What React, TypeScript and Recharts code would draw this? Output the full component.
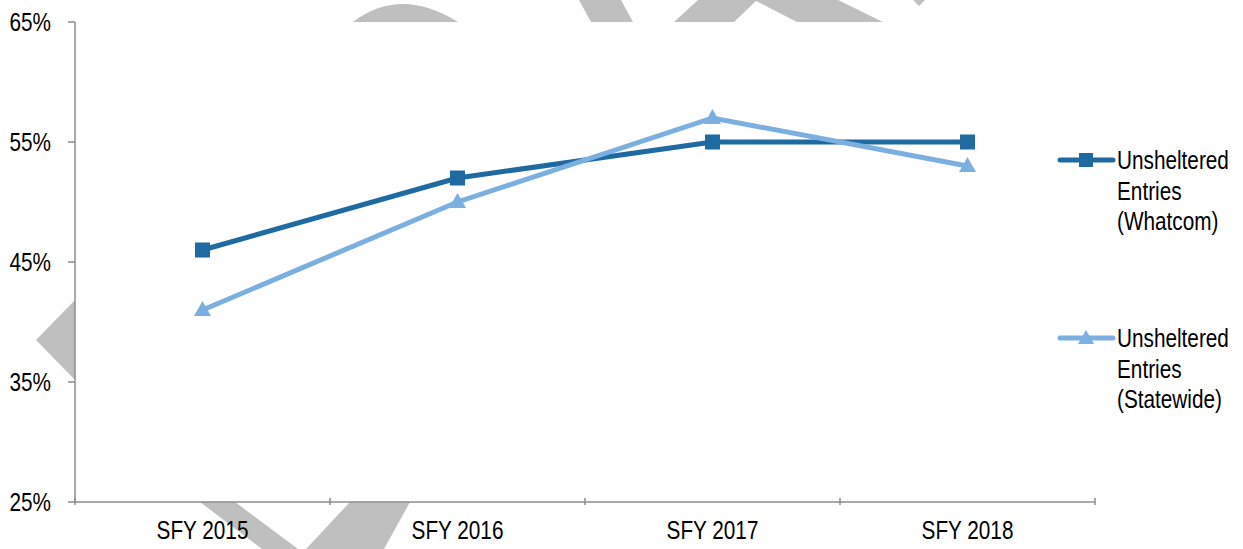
import React from "react";
import { LineChart, Line, XAxis, YAxis, Legend } from "recharts";

const years = ["SFY 2015", "SFY 2016", "SFY 2017", "SFY 2018"];
const whatcom = [46, 52, 55, 55];
const statewide = [41, 50, 57, 53];
const yTicks = [25, 35, 45, 55, 65];

const DARK = "#1f6aa0";
const LIGHT = "#7bafe0";
const AXIS = "#8c8c8c";
const FONT = "'Liberation Sans', Arial, sans-serif";
const FS = 25;
const SQUEEZE = 0.83; // the original uses a narrow face

const data = years.map((y, i) => ({
  year: y,
  whatcom: whatcom[i],
  statewide: statewide[i],
}));

// gray watermark bits peeking out around the plot area
function Watermark() {
  return (
    <svg width={1243} height={549} style={{ position: "absolute", left: 0, top: 0 }}>
      <g fill="#bfbfbf">
        <path d="M353,22 Q400,-14 458,22 Z" />
        <polygon points="579,0 621,0 633,22 591,22" />
        <polygon points="674,22 698,0 838,0 883,22 797,22 756,1 734,22" />
        <polygon points="913,0 925,0 919,6" />
        <polygon points="75,300 36,340 75,380" />
        <polygon points="200,502 235,502 298,549 262,549" />
        <polygon points="350,502 410,502 384,549 306,549" />
      </g>
    </svg>
  );
}

function XTick(props: any) {
  const { x, y, payload, index } = props;
  const half = payload.offset || 0;
  return (
    <g>
      <line x1={x - half} y1={y - 12} x2={x - half} y2={y - 5} stroke={AXIS} strokeWidth={1.5} />
      {index === years.length - 1 && (
        <line x1={x + half} y1={y - 12} x2={x + half} y2={y - 5} stroke={AXIS} strokeWidth={1.5} />
      )}
      <text
        transform={`translate(${x},${y + 29}) scale(${SQUEEZE},1)`}
        textAnchor="middle"
        fontSize={FS}
        fill="#000"
        fontFamily={FONT}
      >
        {payload.value}
      </text>
    </g>
  );
}

function YTick(props: any) {
  const { x, y, payload } = props;
  return (
    <text
      transform={`translate(${x},${y + 9}) scale(${SQUEEZE},1)`}
      textAnchor="end"
      fontSize={FS}
      fill="#000"
      fontFamily={FONT}
    >
      {`${payload.value}%`}
    </text>
  );
}

function LegendBox() {
  const items = [
    { color: DARK, shape: "square", lines: ["Unsheltered", "Entries", "(Whatcom)"] },
    { color: LIGHT, shape: "triangle", lines: ["Unsheltered", "Entries", "(Statewide)"] },
  ];
  return (
    <div style={{ fontFamily: FONT, fontSize: FS, color: "#000" }}>
      {items.map((it, i) => (
        <div key={i} style={{ display: "flex", alignItems: "flex-start", height: i === 0 ? 178 : 100 }}>
          <svg width={60} height={30} style={{ flex: "none" }}>
            <line x1={3} y1={15} x2={56} y2={15} stroke={it.color} strokeWidth={5} strokeLinecap="round" />
            {it.shape === "square" ? (
              <rect x={22} y={8} width={14} height={14} fill={it.color} />
            ) : (
              <polygon points="29,7 37,21 21,21" fill={it.color} />
            )}
          </svg>
          <div
            style={{
              lineHeight: "30.5px",
              whiteSpace: "nowrap",
              transform: `scaleX(${SQUEEZE})`,
              transformOrigin: "left top",
            }}
          >
            {it.lines.map((l) => (
              <div key={l}>{l}</div>
            ))}
          </div>
        </div>
      ))}
    </div>
  );
}

const Square = (props: any) => {
  const { cx, cy } = props;
  return <rect x={cx - 7.5} y={cy - 7.5} width={15} height={15} fill={DARK} />;
};

const Triangle = (props: any) => {
  const { cx, cy } = props;
  return <polygon points={`${cx},${cy - 9} ${cx + 8.5},${cy + 6} ${cx - 8.5},${cy + 6}`} fill={LIGHT} />;
};

export default function App() {
  return (
    <div style={{ position: "absolute", left: 0, top: 0, width: 1243, height: 549, background: "#fff", overflow: "hidden" }}>
      <Watermark />
      <div style={{ position: "absolute", left: 0, top: 0 }}>
        <LineChart width={1243} height={549} data={data} margin={{ top: 22, right: 148, bottom: 0, left: 0 }}>
          <XAxis
            dataKey="year"
            scale="band"
            axisLine={{ stroke: AXIS, strokeWidth: 1.5 }}
            tickLine={false}
            tick={<XTick />}
            height={47}
            interval={0}
          />
          <YAxis
            width={75}
            domain={[25, 65]}
            ticks={yTicks}
            axisLine={{ stroke: AXIS, strokeWidth: 1.5 }}
            tickLine={{ stroke: AXIS, strokeWidth: 1.5 }}
            tickSize={7}
            tickMargin={17}
            tick={<YTick />}
            interval={0}
          />
          <Legend
            layout="vertical"
            align="center"
            verticalAlign="middle"
            wrapperStyle={{ left: 1057, top: 145, width: 186 }}
            content={<LegendBox />}
          />
          <Line
            dataKey="whatcom"
            stroke={DARK}
            strokeWidth={5}
            dot={<Square />}
            isAnimationActive={false}
          />
          <Line
            dataKey="statewide"
            stroke={LIGHT}
            strokeWidth={5}
            dot={<Triangle />}
            isAnimationActive={false}
          />
        </LineChart>
      </div>
    </div>
  );
}
